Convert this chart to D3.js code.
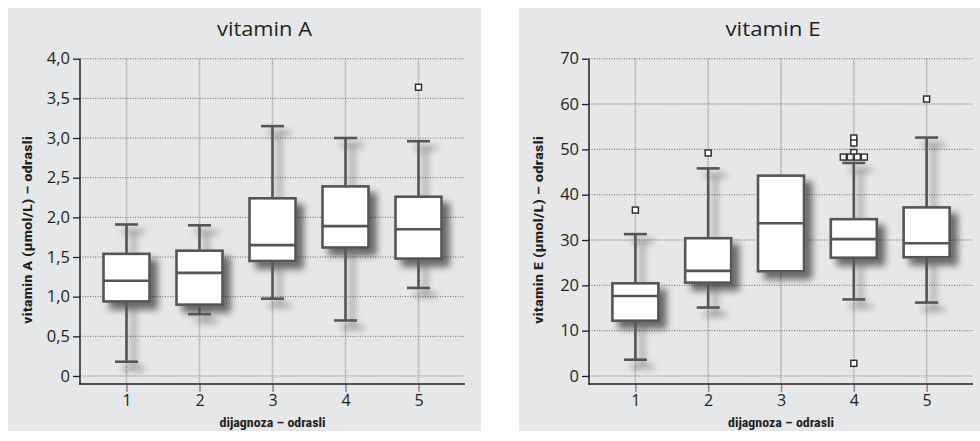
<!DOCTYPE html>
<html><head><meta charset="utf-8">
<script src="https://cdn.jsdelivr.net/npm/d3@7"></script>
<style>body{margin:0;background:#fff}svg{display:block}</style>
</head><body>
<svg id="c" width="980" height="441"></svg>
<script>
const categories = [1, 2, 3, 4, 5];
const ticksA = [0, 0.5, 1, 1.5, 2, 2.5, 3, 3.5, 4];
const ticksE = [0, 10, 20, 30, 40, 50, 60, 70];
// vitamin A: [low whisker, Q1, median, Q3, high whisker]
const statsA = [
  [0.18, 0.94, 1.20, 1.54, 1.91],
  [0.78, 0.90, 1.30, 1.58, 1.90],
  [0.975, 1.45, 1.65, 2.24, 3.15],
  [0.70, 1.62, 1.89, 2.39, 3.00],
  [1.11, 1.48, 1.85, 2.26, 2.96]
];
// outliers: [category, value, jitter slot]
const outliersA = [[5, 3.64, 0]];
const statsE = [
  [3.6, 12.2, 17.65, 20.45, 31.3],
  [15.1, 20.6, 23.2, 30.4, 45.8],
  [null, 23.1, 33.7, 44.2, null],
  [16.9, 26.1, 30.2, 34.6, 47.0],
  [16.2, 26.2, 29.3, 37.2, 52.6]
];
const outliersE = [
  [1, 36.6, 0], [2, 49.2, 0], [5, 61.1, 0],
  [4, 52.5, 0], [4, 51.4, 0], [4, 49.3, 0],
  [4, 48.3, -1.5], [4, 48.3, -0.5], [4, 48.3, 0.5], [4, 48.3, 1.5],
  [4, 2.8, 0]
];

const svg = d3.select('#c');
const defs = svg.append('defs');
const f = defs.append('filter').attr('id', 'sh').attr('x', '-50%').attr('y', '-50%').attr('width', '200%').attr('height', '200%');
f.append('feGaussianBlur').attr('in', 'SourceAlpha').attr('stdDeviation', 3.5).attr('result', 'b');
f.append('feOffset').attr('in', 'b').attr('dx', 7).attr('dy', 7).attr('result', 'o');
f.append('feComponentTransfer').attr('in', 'o').attr('result', 'o2')
  .append('feFuncA').attr('type', 'linear').attr('slope', 0.55);
const m = f.append('feMerge');
m.append('feMergeNode').attr('in', 'o2');
m.append('feMergeNode').attr('in', 'SourceGraphic');

const labelFont = "'Open Sans', 'DejaVu Sans', sans-serif";
const boldFont = "'Liberation Sans Narrow', 'Roboto Condensed', 'Liberation Sans', sans-serif";
const ink = '#231f20';

function panel(o) {
  const g = svg.append('g');
  g.append('rect').attr('x', o.px).attr('y', 8).attr('width', o.pw).attr('height', 423).attr('fill', '#e6e7e8');
  const x = d3.scalePoint().domain(categories).range([o.ax, o.ar]).padding(0.637);
  const y = d3.scaleLinear().domain(o.domain).range([376, 58.7]);
  const axisY = 384;
  // horizontal grid
  g.append('g').selectAll('line').data(o.ticks).join('line')
    .attr('x1', o.ax).attr('x2', o.ar).attr('y1', d => y(d)).attr('y2', d => y(d))
    .attr('stroke', '#6d6d6d').attr('stroke-width', 1).attr('stroke-dasharray', '1,1.5');
  // vertical grid
  g.append('g').selectAll('line').data(categories).join('line')
    .attr('x1', d => x(d)).attr('x2', d => x(d)).attr('y1', 58.7).attr('y2', axisY)
    .attr('stroke', '#9a9a9a').attr('stroke-width', 1.6).attr('stroke-dasharray', '1,1');
  // y axis
  const yAx = g.append('g').attr('transform', `translate(${o.ax},0)`)
    .call(d3.axisLeft(y).tickValues(o.ticks).tickSize(7).tickPadding(3).tickFormat(o.fmt));
  yAx.select('.domain').remove();
  yAx.selectAll('.tick line').attr('stroke', ink).attr('stroke-width', 1.3);
  yAx.selectAll('text').attr('font-family', labelFont).attr('font-size', 16.5).attr('fill', ink);
  g.append('line').attr('x1', o.ax).attr('x2', o.ax).attr('y1', 58.7).attr('y2', axisY + 0.75)
    .attr('stroke', ink).attr('stroke-width', 1.5);
  // x axis
  const xAx = g.append('g').attr('transform', `translate(0,${axisY})`)
    .call(d3.axisBottom(x).tickSize(8).tickPadding(3));
  xAx.select('.domain').remove();
  xAx.selectAll('.tick line').attr('stroke', '#888').attr('stroke-width', 1.5);
  xAx.selectAll('text').attr('font-family', labelFont).attr('font-size', 16).attr('fill', ink);
  g.append('line').attr('x1', o.ax - 0.75).attr('x2', o.ar).attr('y1', axisY).attr('y2', axisY)
    .attr('stroke', ink).attr('stroke-width', 1.5);
  // title
  g.append('text').attr('x', (o.ax + o.ar) / 2 - 8).attr('y', 36).attr('text-anchor', 'middle')
    .attr('font-family', labelFont).attr('font-size', 20).attr('fill', ink)
    .attr('textLength', 95).attr('lengthAdjust', 'spacingAndGlyphs').text(o.title);
  // axis titles
  g.append('text').attr('x', (o.ax + o.ar) / 2).attr('y', 427).attr('text-anchor', 'middle')
    .attr('font-family', boldFont).attr('font-weight', 'bold').attr('font-size', 13.5).attr('fill', ink)
    .attr('textLength', 106).attr('lengthAdjust', 'spacingAndGlyphs').text('dijagnoza – odrasli');
  g.append('text').attr('transform', `translate(${o.px + 24},${o.ylabC}) rotate(-90)`).attr('text-anchor', 'middle')
    .attr('font-family', boldFont).attr('font-weight', 'bold').attr('font-size', 13).attr('fill', ink)
    .attr('textLength', o.ylabLen).attr('lengthAdjust', 'spacingAndGlyphs').text(o.ylab);
  // boxes
  const bw = 46, cw = 23, stroke = '#555', sw = 2.6;
  const boxes = g.append('g');
  o.stats.forEach((s, i) => {
    const cx = x(categories[i]);
    const bg = boxes.append('g').attr('filter', 'url(#sh)');
    const [lo, q1, md, q3, hi] = s;
    if (hi != null) {
      bg.append('line').attr('x1', cx).attr('x2', cx).attr('y1', y(q3)).attr('y2', y(hi)).attr('stroke', stroke).attr('stroke-width', sw);
      bg.append('line').attr('x1', cx - cw / 2).attr('x2', cx + cw / 2).attr('y1', y(hi)).attr('y2', y(hi)).attr('stroke', stroke).attr('stroke-width', sw);
    }
    if (lo != null) {
      bg.append('line').attr('x1', cx).attr('x2', cx).attr('y1', y(q1)).attr('y2', y(lo)).attr('stroke', stroke).attr('stroke-width', sw);
      bg.append('line').attr('x1', cx - cw / 2).attr('x2', cx + cw / 2).attr('y1', y(lo)).attr('y2', y(lo)).attr('stroke', stroke).attr('stroke-width', sw);
    }
    bg.append('rect').attr('x', cx - bw / 2).attr('y', y(q3)).attr('width', bw).attr('height', y(q1) - y(q3))
      .attr('fill', '#fff').attr('stroke', stroke).attr('stroke-width', sw);
    bg.append('line').attr('x1', cx - bw / 2).attr('x2', cx + bw / 2).attr('y1', y(md)).attr('y2', y(md)).attr('stroke', stroke).attr('stroke-width', sw);
  });
  // outliers
  g.append('g').selectAll('rect').data(o.outliers).join('rect')
    .attr('x', d => x(d[0]) + d[2] * 7 - 3).attr('y', d => y(d[1]) - 3).attr('width', 6).attr('height', 6)
    .attr('fill', '#fff').attr('stroke', '#333').attr('stroke-width', 1.5);
}

panel({ px: 8, pw: 473, ax: 80, ar: 465, domain: [0, 4], ticks: ticksA, fmt: d => d === 0 ? '0' : d3.format('.1f')(d).replace('.', ','),
  title: 'vitamin A', ylab: 'vitamin A (µmol/L) – odrasli', ylabC: 230, ylabLen: 188, stats: statsA, outliers: outliersA });
panel({ px: 519, pw: 461, ax: 589, ar: 973, domain: [0, 70], ticks: ticksE, fmt: d3.format('d'),
  title: 'vitamin E', ylab: 'vitamin E (µmol/L) – odrasli', ylabC: 230, ylabLen: 188, stats: statsE, outliers: outliersE });
</script>
</body></html>
